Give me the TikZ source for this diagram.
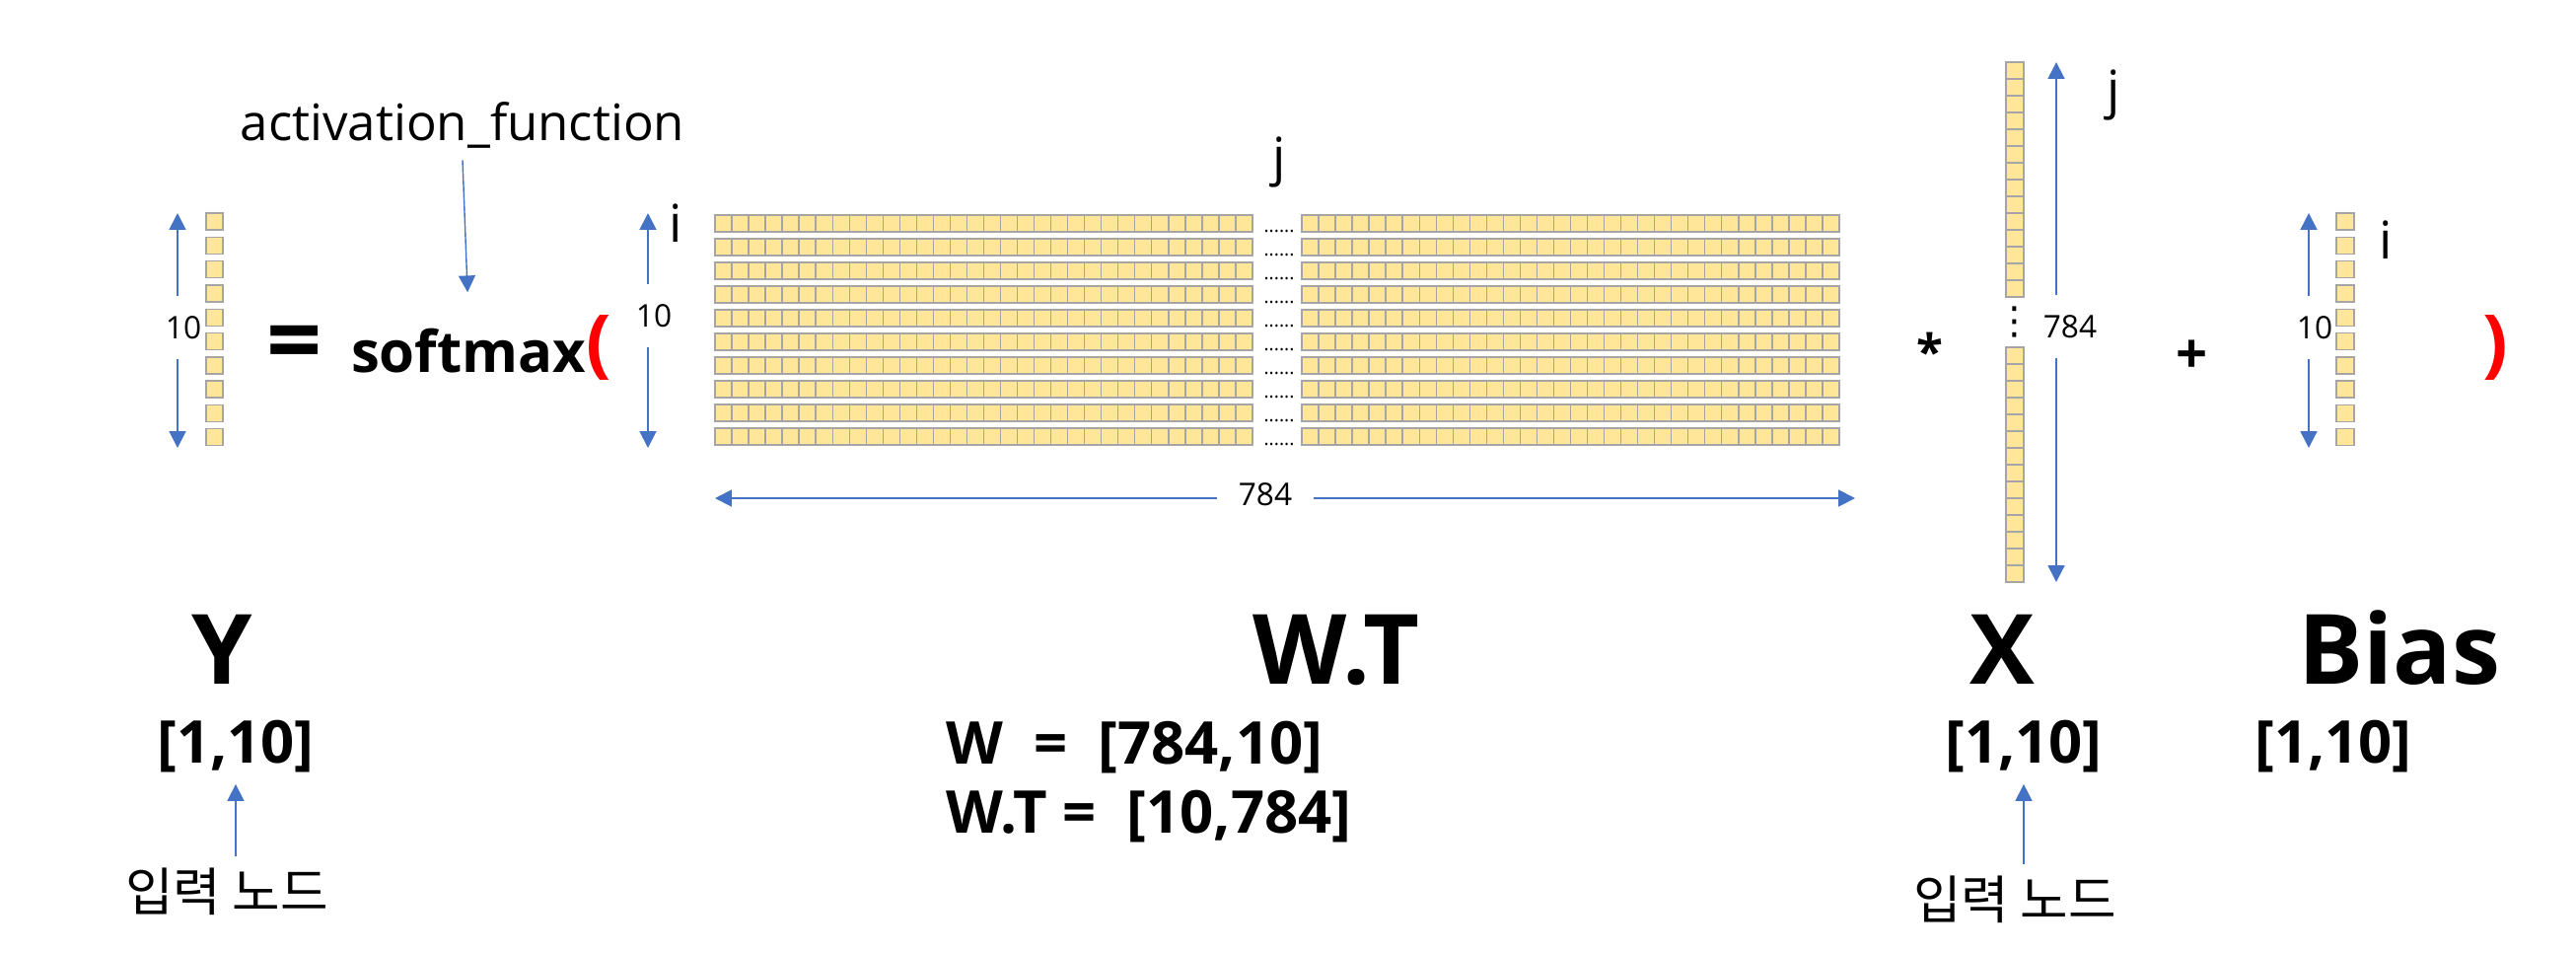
\documentclass[tikz,border=0pt]{standalone}
\usepackage{fontspec}
\setmainfont{Open Sans}
\newfontfamily\krfont{Noto Sans CJK KR}
\newfontfamily\symfont{DejaVu Sans}
\usepackage{tikz}
\usetikzlibrary{positioning,arrows.meta}
\usepackage{xcolor}
\definecolor{cellfill}{HTML}{FFE699}
\definecolor{celldraw}{HTML}{A5A5A5}
\definecolor{arrowblue}{HTML}{4472C4}
\definecolor{parenred}{HTML}{FF0000}
\tikzset{
  cell/.style={draw=celldraw,fill=cellfill,line width=0.4pt},
  dimarrow/.style={draw=arrowblue,line width=0.55pt,-{Triangle[width=4.8pt,length=4.8pt]}},
  ptrarrow/.style={draw=arrowblue,line width=0.4pt,-{Triangle[width=4.8pt,length=4.8pt]}},
  dimlabel/.style={font=\fontsize{9}{11}\selectfont,inner xsep=6pt,inner ysep=5.5pt},
  idx/.style={font=\fontsize{15}{18}\selectfont,anchor=base},
  bigname/.style={font=\fontsize{28}{34}\selectfont\bfseries,anchor=base},
  shapelbl/.style={font=\fontsize{17}{20}\selectfont\bfseries,anchor=base},
  paren/.style={font=\fontsize{21.5}{26}\selectfont\bfseries,text=parenred},
  inputlbl/.style={font=\krfont\fontsize{15}{18}\selectfont},
}
\begin{document}
\begin{tikzpicture}[x=0.01cm,y=-0.01cm]
\useasboundingbox (0,0) rectangle (2612,966);
\node (act) at (469,142) [font=\fontsize{14.5}{17}\selectfont,anchor=base] {activation\_function};
\foreach \k in {0,...,9} {
    \draw[cell] (209,{216+24.3*\k}) rectangle ++(17,17);
}
\node (ydim) at (186,332) [dimlabel] {10};
\coordinate (ytop) at (180,216);
\coordinate (ybot) at (180,454);
\draw[dimarrow] (ydim.north -| ytop) -- (ytop);
\draw[dimarrow] (ydim.south -| ybot) -- (ybot);
\node (eq) at (299,379) [font=\fontsize{28}{34}\selectfont\bfseries,anchor=base] {=};
\node (softmax) at (475,377) [font=\fontsize{16.5}{20}\selectfont\bfseries,anchor=base] {softmax};
\draw[ptrarrow,shorten >=6.8pt] (act.south) -- (softmax.north);
\node (lparen) at (607,352) [paren] {(};
\node (wdim) at (663,320) [dimlabel] {10};
\coordinate (wtop) at (657,216);
\coordinate (wbot) at (657,454);
\draw[dimarrow] (wdim.north -| wtop) -- (wtop);
\draw[dimarrow] (wdim.south -| wbot) -- (wbot);
\node (wi) at (685,245) [idx] {i};
\node (wj) at (1297,177) [idx] {j};
\foreach \r in {0,...,9} {
    \foreach \c in {0,...,31} {
        \draw[cell] ({725+17.03*\c},{218+24*\r}) rectangle ++(17.03,17);
        \draw[cell] ({1320+17.03*\c},{218+24*\r}) rectangle ++(17.03,17);
    }
    \node (dots\r) at (1297,{235+24*\r}) [font=\fontsize{5.5}{6}\selectfont,anchor=base] {......};
}
\node (hdim) at (1283,501) [dimlabel] {784};
\coordinate (hleft) at (725,505);
\coordinate (hright) at (1881,505);
\draw[dimarrow] (hdim.west |- hleft) -- (hleft);
\draw[dimarrow] (hdim.east |- hright) -- (hright);
\node (times) at (1957,374) [font=\fontsize{14}{17}\selectfont\bfseries,anchor=base] {*};
\foreach \k in {0,...,13} {
    \draw[cell] (2034,{63+17*\k}) rectangle ++(18,17);
    \draw[cell] (2034,{352+17*\k}) rectangle ++(18,17);
}
\node (xdots) at (2043,326) [font=\symfont\fontsize{11}{13}\selectfont,inner sep=0pt] {⋮};
\node (xdim) at (2099,331) [dimlabel,inner xsep=2pt] {784};
\coordinate (xtop) at (2085,63);
\coordinate (xbot) at (2085,590);
\draw[dimarrow] (xdim.north -| xtop) -- (xtop);
\draw[dimarrow] (xdim.south -| xbot) -- (xbot);
\node (xj) at (2143,109) [idx] {j};
\node (plus) at (2223,378) [font=\fontsize{16}{19}\selectfont\bfseries,anchor=base] {+};
\foreach \k in {0,...,9} {
    \draw[cell] (2369,{216+24.3*\k}) rectangle ++(18,17);
}
\node (bdim) at (2347,332) [dimlabel] {10};
\coordinate (btop) at (2341,216);
\coordinate (bbot) at (2341,454);
\draw[dimarrow] (bdim.north -| btop) -- (btop);
\draw[dimarrow] (bdim.south -| bbot) -- (bbot);
\node (bi) at (2419,262) [idx] {i};
\node (rparen) at (2530,352) [paren] {)};
\node (yname) at (225,693) [bigname] {Y};
\node (wtname) at (1355,693) [bigname] {W.T};
\node (xname) at (2030,693) [bigname] {X};
\node (biasname) at (2433,693) [bigname] {Bias};
\node (yshape) at (239,773) [shapelbl] {[1,10]};
\node (xshape) at (2052,773) [shapelbl] {[1,10]};
\node (bshape) at (2366,773) [shapelbl] {[1,10]};
\node (wshape) at (959,774) [shapelbl,anchor=base west,inner xsep=0pt] {W\ \ =\ \ [784,10]};
\node (wtshape) at (959,844) [shapelbl,anchor=base west,inner xsep=0pt] {W.T\ =\ \ [10,784]};
\node (yin) at (230,904) [inputlbl] {입력 노드};
\node (xin) at (2043,912) [inputlbl] {입력 노드};
\draw[ptrarrow] (yin.north -| yshape.south) -- (yshape.south);
\draw[ptrarrow] (xin.north -| xshape.south) -- (xshape.south);
\end{tikzpicture}
\end{document}
